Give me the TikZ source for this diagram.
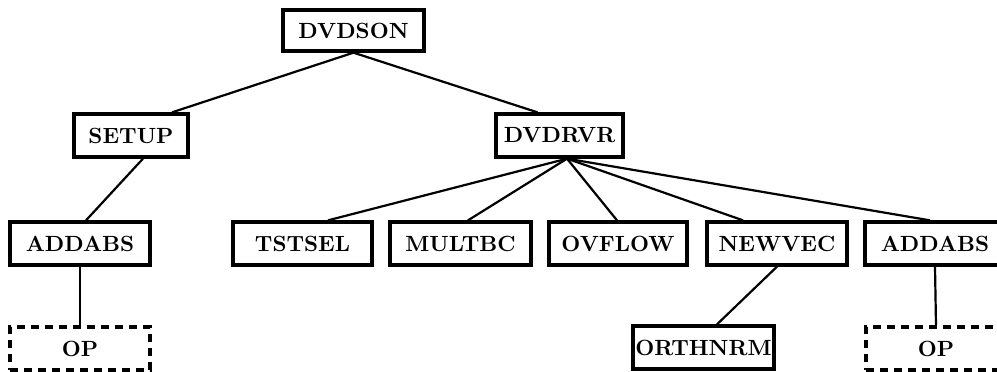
\documentclass[tikz,border=0pt]{standalone}
\usepackage{fontspec}
\usepackage{graphicx}
\newcommand{\boxlabel}[1]{\scalebox{2.2}{\bfseries\addfontfeature{LetterSpace=14}#1}}
\usetikzlibrary{calc}
\begin{document}
\begin{tikzpicture}[x=1pt,y=-1pt,
  box/.style={draw,line width=3.3pt,minimum height=43pt,inner sep=0pt},
  dbox/.style={box,dash pattern=on 8pt off 6pt},
  link/.style={line width=2.2pt}]
\useasboundingbox (0,0) rectangle (997,372);
\node[box,minimum width=141pt,minimum height=41pt] (dvdson) at (353.5,30.5) {\boxlabel{DVDSON}};
\node[box,minimum width=114pt] (setup) at (131,135.5) {\boxlabel{SETUP}};
\node[box,minimum width=127pt] (dvdrvr) at (559.5,135.5) {\boxlabel{DVDRVR}};
\node[box,minimum width=140pt] (addabsL) at (80,243.5) {\boxlabel{ADDABS}};
\node[box,minimum width=139pt] (tstsel) at (302.5,243.5) {\boxlabel{TSTSEL}};
\node[box,minimum width=141pt] (multbc) at (460.5,243.5) {\boxlabel{MULTBC}};
\node[box,minimum width=138pt] (ovflow) at (618,243.5) {\boxlabel{OVFLOW}};
\node[box,minimum width=140pt] (newvec) at (777,243.5) {\boxlabel{NEWVEC}};
\node[box,minimum width=140pt] (addabsR) at (935,243.5) {\boxlabel{ADDABS}};
\node[dbox,minimum width=140pt] (opL) at (80,348.5) {\boxlabel{OP}};
\node[box,minimum width=141pt,text width=141pt,align=center] (orthnrm) at (703.5,347.5) {\boxlabel{ORTHNRM}};
\node[dbox,minimum width=140pt] (opR) at (936,348.5) {\boxlabel{OP}};
\draw[link] (dvdson.south) -- ($(setup.north)+(41,0)$);
\draw[link] (dvdson.south) -- ($(dvdrvr.north)+(-22,0)$);
\draw[link] ($(setup.south)+(12,0)$) -- ($(addabsL.north)+(6,0)$);
\draw[link] ($(dvdrvr.south)+(7.5,0)$) -- ($(tstsel.north)+(25.5,0)$);
\draw[link] ($(dvdrvr.south)+(7.5,0)$) -- ($(multbc.north)+(7.5,0)$);
\draw[link] ($(dvdrvr.south)+(7.5,0)$) -- ($(ovflow.north)+(-1,0)$);
\draw[link] ($(dvdrvr.south)+(7.5,0)$) -- ($(newvec.north)+(-34,0)$);
\draw[link] ($(dvdrvr.south)+(7.5,0)$) -- ($(addabsR.north)+(-5,0)$);
\draw[link] (newvec.south) -- ($(orthnrm.north)+(13.5,0)$);
\draw[link] (addabsL.south) -- (opL.north);
\draw[link] (addabsR.south) -- (opR.north);
\end{tikzpicture}
\end{document}
